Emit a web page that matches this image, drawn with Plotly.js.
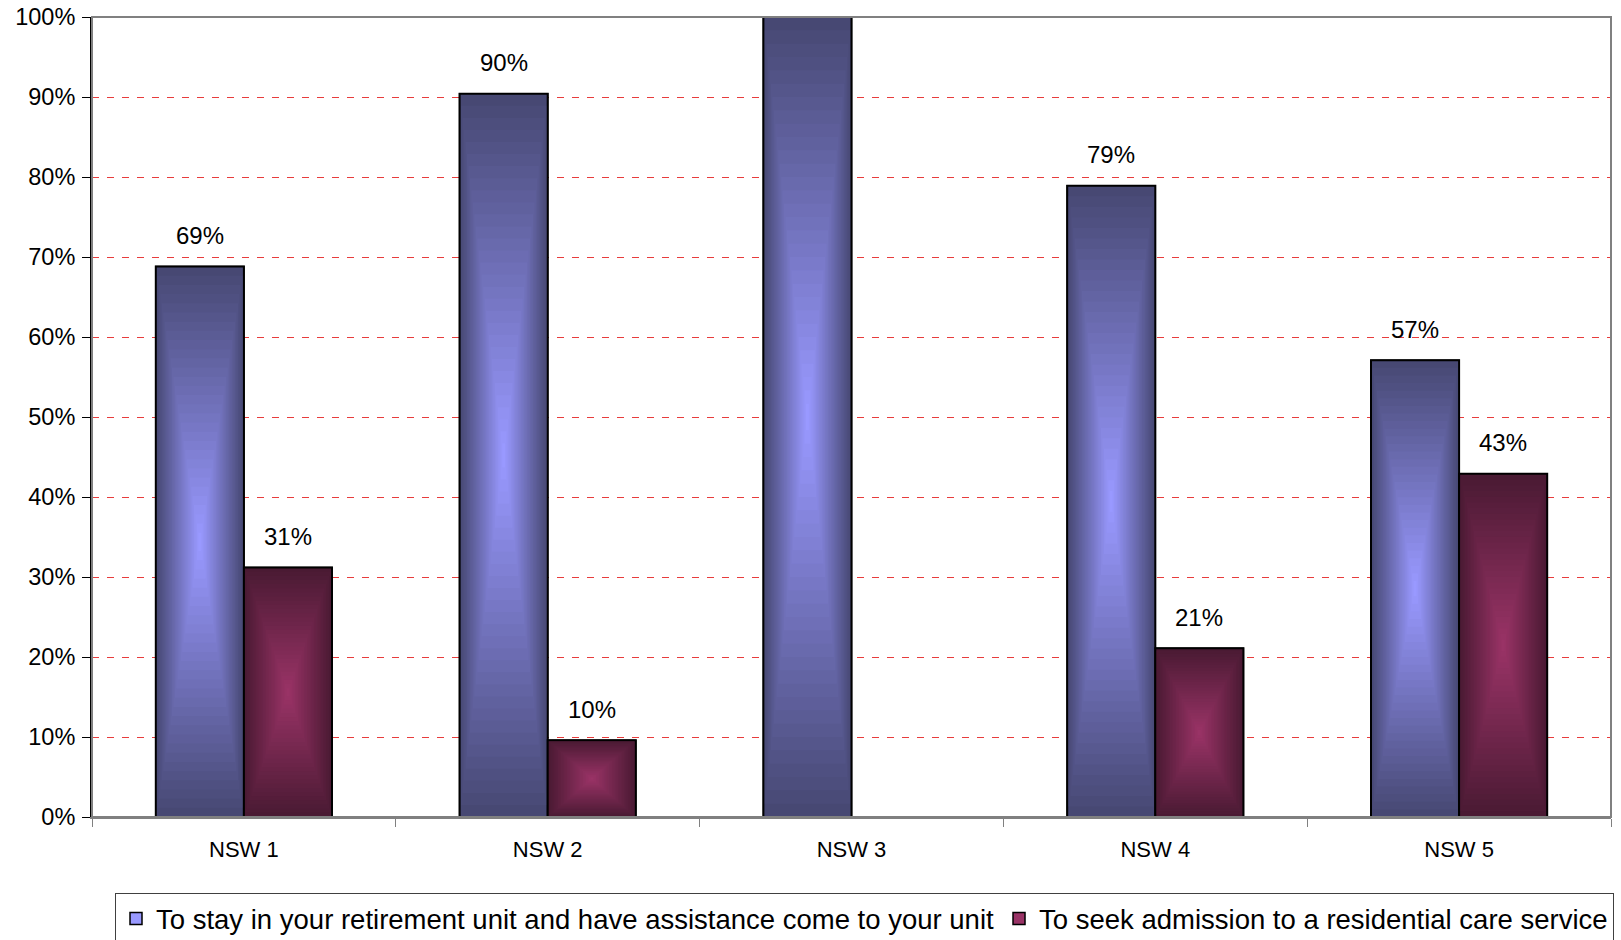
<!DOCTYPE html>
<html>
<head>
<meta charset="utf-8">
<script src="https://cdn.plot.ly/plotly-3.0.1.min.js"></script>
<style>html,body{margin:0;padding:0;background:#fff;}#chart{width:1621px;height:940px;}</style>
</head>
<body>
<div id="chart"></div>
<script>
const categories = ['NSW 1', 'NSW 2', 'NSW 3', 'NSW 4', 'NSW 5'];
const seriesNames = [
  'To stay in your retirement unit and have assistance come to your unit',
  'To seek admission to a residential care service'
];
const stayValues = [68.8, 90.4, 100, 78.9, 57.1];
const careValues = [31.2, 9.6, 0, 21.1, 42.9];
const stayLabels = ['69%', '90%', '', '79%', '57%'];
const careLabels = ['31%', '10%', '', '21%', '43%'];
const yTickValues = [0, 10, 20, 30, 40, 50, 60, 70, 80, 90, 100];

const FONT = '"Liberation Sans", Arial, sans-serif';
const BAR_W = 0.29;
const LAYERS = 30;
const series = [
  { name: seriesNames[0], values: stayValues, labels: stayLabels, center: -BAR_W / 2,
    dark: [71, 72, 115], light: [153, 153, 255] },
  { name: seriesNames[1], values: careValues, labels: careLabels, center: BAR_W / 2,
    dark: [74, 26, 51], light: [153, 51, 102] }
];

function mix(a, b, f) {
  const c = a.map((v, i) => Math.round(v + (b[i] - v) * f));
  return 'rgb(' + c.join(',') + ')';
}

const traces = [];
// legend carriers (drawn first, fully covered by the gradient layers)
series.forEach(s => {
  traces.push({
    type: 'bar', x: categories,
    y: s.values.map(v => v > 0 ? v : null),
    width: BAR_W, offset: s.center - BAR_W / 2,
    name: s.name,
    marker: { color: mix(s.dark, s.light, 1), line: { color: '#000', width: 1.5 } },
    showlegend: true, hoverinfo: 'skip'
  });
});
series.forEach(s => {
  for (let k = 0; k < LAYERS; k++) {
    const t = k / LAYERS;
    const frac = 1 - t;
    const w = BAR_W * frac;
    traces.push({
      type: 'bar',
      x: categories,
      y: s.values.map(v => v > 0 ? v * frac : null),
      base: s.values.map(v => v * t / 2),
      width: w,
      offset: s.center - w / 2,
      marker: {
        color: mix(s.dark, s.light, k / (LAYERS - 1)),
        line: { color: '#000', width: k === 0 ? 2 : 0 }
      },
      showlegend: false,
      hoverinfo: 'skip'
    });
  }
});

const annotations = [];
series.forEach(s => {
  s.values.forEach((v, i) => {
    if (!s.labels[i]) return;
    annotations.push({
      x: i + s.center, y: v, xref: 'x', yref: 'y',
      text: s.labels[i], showarrow: false,
      yanchor: 'middle', yshift: 31,
      font: { family: FONT, size: 24, color: '#000' }
    });
  });
});

const layout = {
  width: 1621, height: 940,
  margin: { l: 92, r: 10, t: 17, b: 123 },
  paper_bgcolor: '#fff', plot_bgcolor: '#fff',
  barmode: 'overlay',
  font: { family: FONT, size: 22, color: '#000' },
  xaxis: {
    type: 'category',
    tickson: 'boundaries',
    ticks: 'outside', ticklen: 8, tickcolor: '#808080', tickwidth: 1,
    showline: true, linecolor: '#808080', linewidth: 2,
    showgrid: false, zeroline: false,
    ticklabelstandoff: 12,
    tickfont: { family: FONT, size: 22, color: '#000' }
  },
  yaxis: {
    range: [0, 100],
    tickvals: yTickValues,
    ticktext: yTickValues.map(v => v + '%'),
    ticks: 'outside', ticklen: 8, tickcolor: '#000', tickwidth: 1,
    showline: true, linecolor: '#000', linewidth: 2,
    showgrid: true, gridcolor: '#e83c3c', gridwidth: 1, griddash: '7px,8px',
    zeroline: false,
    ticklabelstandoff: 2,
    tickfont: { family: FONT, size: 23.5, color: '#000' }
  },
  shapes: [{
    type: 'rect', xref: 'paper', yref: 'paper', x0: 0, x1: 1, y0: 0, y1: 1,
    line: { color: '#808080', width: 2 }, fillcolor: 'rgba(0,0,0,0)', layer: 'above'
  }],
  legend: {
    orientation: 'h',
    xref: 'container', x: 115 / 1621, xanchor: 'left',
    yref: 'container', y: 47 / 940, yanchor: 'top',
    bgcolor: '#fff', bordercolor: '#404040', borderwidth: 1,
    font: { family: FONT, size: 27.5, color: '#000' },
    itemwidth: 30, traceorder: 'normal'
  },
  annotations: annotations
};

Plotly.newPlot('chart', traces, layout, { displayModeBar: false, staticPlot: true });
</script>
</body>
</html>
